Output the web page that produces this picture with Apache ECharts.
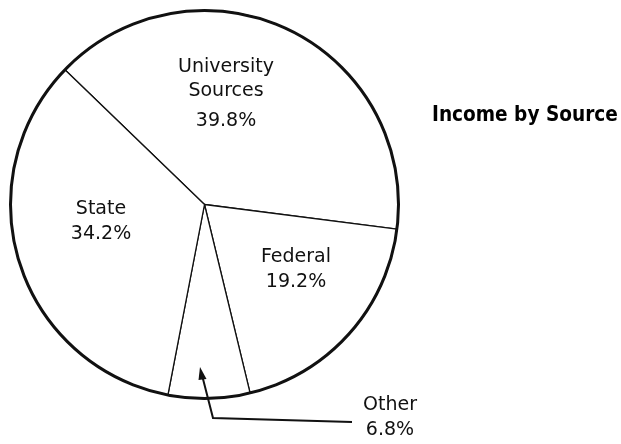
<!DOCTYPE html>
<html>
<head>
<meta charset="utf-8">
<script src="https://cdn.jsdelivr.net/npm/echarts@6/dist/echarts.min.js"></script>
<style>
html,body{margin:0;padding:0;background:#fff;}
#chart{width:621px;height:444px;}
</style>
</head>
<body>
<div id="chart"></div>
<script>
// Data (clockwise order starting from the University/State boundary)
const categories = ['University\nSources', 'Federal', 'Other', 'State'];
const values = [39.8, 19.2, 6.8, 34.2];
const titleText = 'Income by Source';

// Label anchor positions (layout only)
const labelPos = [[226, 97], [296, 270], [390, 418], [101, 222]];

const chart = echarts.init(document.getElementById('chart'), null, {renderer: 'canvas'});
const FONT = '"DejaVu Sans", sans-serif';

const pieData = categories.map((c, i) => ({name: c, value: values[i]}));

chart.setOption({
  backgroundColor: '#fff',
  animation: false,
  title: {
    text: titleText,
    left: 432,
    top: 104,
    padding: 0,
    textStyle: {fontFamily: '"DejaVu Sans Condensed", "DejaVu Sans", sans-serif', fontWeight: 'bold', fontSize: 20.6, color: '#000', lineHeight: 24}
  },
  series: [
    {
      type: 'pie',
      center: [204.5, 204.5],
      radius: 194,
      startAngle: 136,
      clockwise: true,
      silent: true,
      avoidLabelOverlap: false,
      itemStyle: {color: '#fff', borderColor: '#111', borderWidth: 1.3},
      emphasis: {disabled: true},
      labelLine: {show: false},
      label: {
        show: true,
        position: 'inside',
        fontFamily: FONT,
        fontSize: 19,
        color: '#111',
        lineHeight: 25,
        align: 'center',
        formatter: p => {
          if (p.dataIndex === 0) return '{n|' + p.name + '}\n{p|' + p.value.toFixed(1) + '%}';
          return '{m|' + p.name + '}\n{m|' + p.value.toFixed(1) + '%}';
        },
        rich: {
          n: {fontFamily: FONT, fontSize: 19, lineHeight: 24, color: '#111'},
          p: {fontFamily: FONT, fontSize: 19, lineHeight: 36, color: '#111'},
          m: {fontFamily: FONT, fontSize: 19, lineHeight: 25, color: '#111'}
        }
      },
      labelLayout: p => ({x: labelPos[p.dataIndex][0], y: labelPos[p.dataIndex][1], align: 'center', verticalAlign: 'middle'}),
      data: pieData
    },
    {
      type: 'pie',
      center: [204.5, 204.5],
      radius: 194,
      silent: true,
      z: 5,
      itemStyle: {color: 'rgba(0,0,0,0)', borderColor: '#111', borderWidth: 3},
      emphasis: {disabled: true},
      label: {show: false},
      labelLine: {show: false},
      data: [{value: 1, name: 'outline'}]
    }
  ],
  graphic: [
    {
      type: 'polyline',
      shape: {points: [[202.5, 377], [213, 418], [352, 422]]},
      style: {stroke: '#111', lineWidth: 2, fill: null},
      z: 10
    },
    {
      type: 'polygon',
      shape: {points: [[200, 367], [206.5, 379], [198.5, 380]]},
      style: {fill: '#111'},
      z: 10
    }
  ]
});
</script>
</body>
</html>
